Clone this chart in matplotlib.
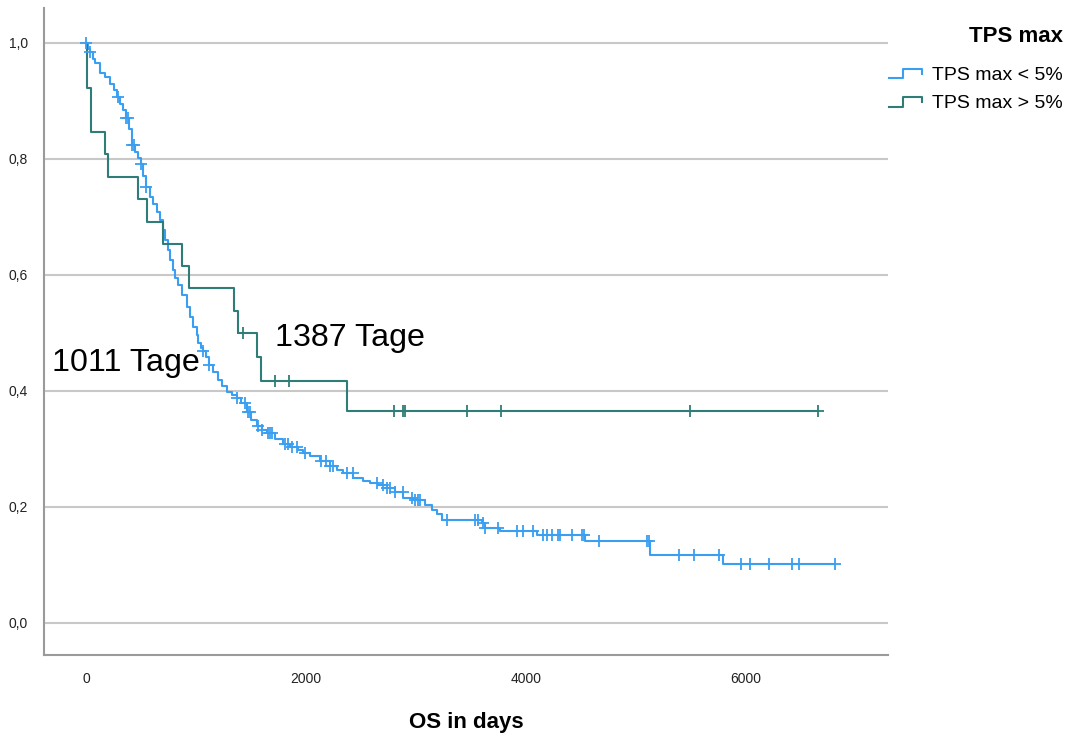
import numpy as np
import matplotlib
matplotlib.use("Agg")
import matplotlib.pyplot as plt  # noqa: E402
from matplotlib.lines import Line2D  # noqa: E402
from matplotlib.legend_handler import HandlerBase  # noqa: E402

plt.rcParams["font.family"] = ["Liberation Sans", "DejaVu Sans"]

BLUE, GREEN, GRID, SPINE = "#3a9ff0", "#2f7d76", "#c8c8c8", "#9a9a9a"

# TPS max < 5%: step times (days) and survival after each step
low_t = [0, 18, 36, 64, 82, 127, 173, 218, 255, 282, 309, 336, 364, 391, 415,
         445, 475, 497, 518, 545, 582, 612, 645, 673, 695, 718, 741, 764, 786,
         809, 839, 873, 915, 945, 975, 1011, 1021, 1045, 1066, 1091, 1121, 1155,
         1203, 1236, 1279, 1327, 1370, 1409, 1461, 1500, 1552, 1597, 1643, 1718,
         1794, 1855, 1930, 1975, 2036, 2127, 2218, 2282, 2339, 2430, 2518, 2582,
         2655, 2734, 2809, 2885, 2975, 3082, 3143, 3188, 3234, 3597, 3627, 3764,
         4097, 4536, 5127, 5794]
low_s = [1.0, 0.99, 0.985, 0.972, 0.965, 0.948, 0.942, 0.930, 0.918, 0.907,
         0.895, 0.884, 0.870, 0.851, 0.824, 0.812, 0.801, 0.791, 0.770, 0.751,
         0.735, 0.723, 0.708, 0.695, 0.677, 0.660, 0.643, 0.626, 0.609, 0.595,
         0.583, 0.565, 0.545, 0.528, 0.511, 0.496, 0.482, 0.474, 0.468, 0.458,
         0.445, 0.432, 0.419, 0.409, 0.399, 0.393, 0.388, 0.380, 0.364, 0.350,
         0.339, 0.332, 0.327, 0.318, 0.308, 0.304, 0.298, 0.293, 0.287, 0.279,
         0.270, 0.264, 0.259, 0.250, 0.245, 0.241, 0.237, 0.232, 0.225, 0.216,
         0.212, 0.203, 0.194, 0.187, 0.178, 0.172, 0.163, 0.158, 0.152, 0.141,
         0.118, 0.101]
low_end = 6809
low_cens = [0, 36, 288, 364, 382, 418, 432, 497, 545, 1066, 1121, 1370, 1445,
            1473, 1491, 1564, 1600, 1655, 1673, 1691, 1809, 1836, 1873, 1918,
            1991, 2136, 2182, 2218, 2245, 2373, 2427, 2645, 2700, 2736, 2764,
            2809, 2882, 2964, 2991, 3018, 3036, 3282, 3536, 3564, 3609, 3627,
            3745, 3918, 3973, 4064, 4155, 4191, 4236, 4291, 4309, 4418, 4509,
            4527, 4664, 5100, 5118, 5391, 5527, 5755, 5955, 6036, 6209, 6418,
            6482, 6809]

# TPS max > 5%
high_t = [0, 5, 43, 170, 203, 475, 552, 703, 875, 934, 1348, 1380, 1552, 1591, 2370]
high_s = [1.0, 0.923, 0.846, 0.808, 0.769, 0.731, 0.692, 0.654, 0.615, 0.577,
          0.538, 0.500, 0.458, 0.417, 0.365]
high_end = 6655
high_cens = [1425, 1721, 1848, 2803, 2879, 2903, 3461, 3770, 5491, 6655]

medians = [("1011 Tage", -310, 0.448), ("1387 Tage", 1718, 0.491)]


def surv_at(times, surv, t):
    i = np.searchsorted(times, t, side="right") - 1
    return surv[max(i, 0)]


class StepHandler(HandlerBase):
    def create_artists(self, legend, orig_handle, xdescent, ydescent,
                       width, height, fontsize, trans):
        xs = np.array([0, 0.45, 0.45, 1.0, 1.0]) * width - xdescent
        ys = np.array([0.1, 0.1, 0.8, 0.8, 0.4]) * height - ydescent
        ln = Line2D(xs, ys, color=orig_handle.get_color(), lw=1.5)
        ln.set_transform(trans)
        return [ln]


fig = plt.figure(figsize=(10.69, 7.36), dpi=100)
ax = fig.add_axes([0.0412, 0.1101, 0.7895, 0.8791])

handles = []
for t, s, end, cens, col, lab in [
        (low_t, low_s, low_end, low_cens, BLUE, "TPS max < 5%"),
        (high_t, high_s, high_end, high_cens, GREEN, "TPS max > 5%")]:
    xs = list(t) + [end]
    ys = list(s) + [s[-1]]
    h, = ax.step(xs, ys, where="post", color=col, lw=1.5, label=lab, zorder=3)
    handles.append(h)
    cy = [surv_at(t, s, c) for c in cens]
    ax.plot(cens, cy, ls="none", marker="+", ms=9, mew=1.3, color=col, zorder=4)

for txt, x, y in medians:
    ax.text(x, y, txt, fontsize=23.2, ha="left", va="center", color="black", zorder=5)

ax.set_xlim(-382, 7291)
ax.set_ylim(-0.0552, 1.0603)
ax.set_xticks([0, 2000, 4000, 6000])
ax.set_yticks([0.0, 0.2, 0.4, 0.6, 0.8, 1.0])
ax.set_yticklabels(["0,0", "0,2", "0,4", "0,6", "0,8", "1,0"])
ax.tick_params(length=0, labelsize=10, colors="#222222")
ax.tick_params(axis="y", pad=11.5)
ax.tick_params(axis="x", pad=12)
ax.yaxis.grid(True, color=GRID, lw=1.5)
ax.set_axisbelow(True)
for side in ("top", "right"):
    ax.spines[side].set_visible(False)
for side in ("left", "bottom"):
    ax.spines[side].set_color(SPINE)
    ax.spines[side].set_linewidth(1.5)
ax.set_xlabel("OS in days", fontsize=16, fontweight="bold", labelpad=19)

fig.text(1063 / 1069, 1 - 36 / 736, "TPS max", ha="right", va="center",
         fontsize=16, fontweight="bold")
fig.legend(handles=handles, handler_map={Line2D: StepHandler()},
           loc="upper right", bbox_to_anchor=(1063 / 1069, 1 - 66 / 736),
           frameon=False, fontsize=14, alignment="right",
           handlelength=1.7, handletextpad=0.55,
           labelspacing=0.55, borderpad=0, borderaxespad=0)

fig.savefig("out.png", dpi=100)
